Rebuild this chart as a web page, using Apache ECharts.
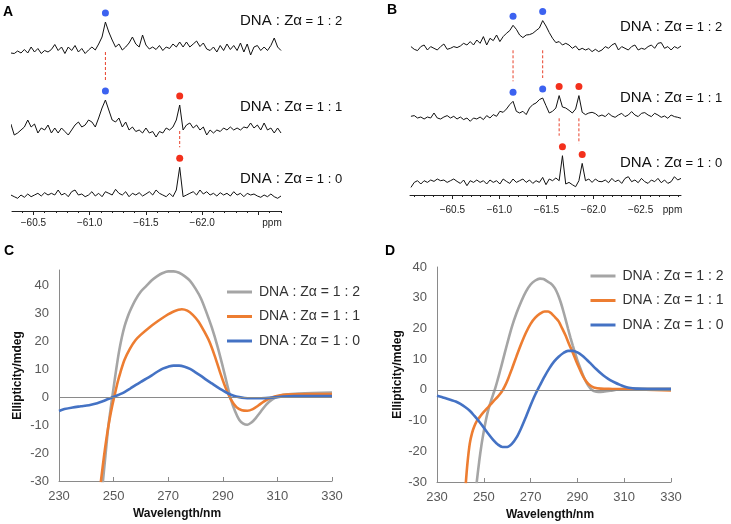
<!DOCTYPE html>
<html><head><meta charset="utf-8">
<script src="https://cdn.jsdelivr.net/npm/echarts@6/dist/echarts.min.js"></script>
<style>html,body{margin:0;padding:0;background:#fff}#c{width:731px;height:524px}</style>
</head><body><div id="c"></div>
<script>
// ---------------- DATA ----------------
const ratioNames = ['DNA : Zα = 1 : 2', 'DNA : Zα = 1 : 1', 'DNA : Zα = 1 : 0'];

// Panel A: 19F NMR spectra, sampled from -60.30 ppm every 0.03 ppm
const nmrA_start = -60.30, nmrA_step = 0.03;
const nmrA_12 = [-2,-2.5,0,-2,1.5,-2,4,-1,2.5,-2.5, 0.5,-1,1.5,6.5,0.5,4,-2.5,4,0.5,5.5,
  -1,2.5,-2.5,1,4,1,7,14,29,19, 11,4,7,1,4,8,14,7,4,16, 6,2,4,1.5,5.5,0.5,4,2.5,7,4,
  9,4,9,4,7,10,4.5,8,2,0.5, 4,-1,5.5,0.5,7,1.5,5.5,0.5,8,-1, 7,-4,4,5.5,0.5,4,0.5,5.5,13,4, 0.5];
const nmrA_11 = [6,-5,-3,0,3,10,3,6,-3,2, 0,5,-3,2,-3,2,-1.5,-5,0,5, 8,3,5,10,8,3,12,22,30,20,
  10,8,12,3,8,0,3,-1.5,0,-3, 2,-3,-1.5,-7,-1.5,-3,2,0,3,10, 25,0,5,7,2,5,0,3,-5,0,
  -3,0,-1.5,2,0,3,0,2,0,3, 2,7,2,5,0,7,0,2,-3,2, -3];
const nmrA_10 = [1,-0.7,-2.3,1,-1.3,2,-0.7,1,2.7,0, 3.3,1,2.7,1,6,1,2.7,-0.7,4.3,6,
  1,2,-0.7,1,4.3,0,2.7,-0.7,4.3,2.7, 1,6.7,2.7,1,4.3,-0.7,2.7,1,3.3,0, 2,4.3,1,6,2.7,1,-0.7,2.7,-0.7,6,
  28.7,-0.7,1,2.7,4.3,1,6,2,4.3,1, 2.7,0,3.3,1,2.7,0,4.3,1,2.7,-0.7, 2.7,1,2,0,-1.3,1,-0.7,2,-0.7,-2.3, 0];

// Panel B: 19F NMR spectra, sampled from -60.06 ppm every 0.035 ppm
const nmrB_start = -60.06, nmrB_step = 0.035;
const nmrB_12 = [2.7,0,-1.3,2.7,4.3,-0.7,2.7,1,-0.7,2.7, 5.3,0,1,2.7,1.7,3.3,6,4.3,7.7,4.3,
  9.3,6,12.7,4.3,11,8.7,14.3,7.7,12.7,16, 18.7,24,20,14.3,11.7,14.3,14.7,16,18.7,21.3,
  28.7,23.3,16.7,11,6.7,7.7,4.3,6,4.3,1, 3.3,-0.7,1,-0.7,0.7,-2.3,0,-2.3,-0.7,2.7,
  1,4.3,6,-0.7,2.7,1,-0.7,2.7,4.3,-0.7, 1,0,2.7,4.3,1,6,6.7,1,2.7,-0.7, 2.7,1,3.3];
const nmrB_11 = [1,1.7,-0.7,0.3,-1.7,0.3,-0.7,4.3,-0.7,-1.7, 0.3,1.7,-0.7,1,-1.7,0.3,-2.3,-0.7,-4,-0.7,
  -1.7,0.3,-2.3,1.7,-0.7,2.7,1,6,5,8.3, 12.7,16,6,4.3,6,2.7,9.3,12.7,14.3,17.7,
  19.3,11.7,4.3,6,9.3,21.7,10.3,9.3,7,4.3, 8.3,21.7,5,2.7,4.3,5,3.7,1,2.3,0.7,
  4,1.3,0,2.3,4,0.7,2.3,5.7,2.3,0.7, 4,4.7,2.3,0.7,4,2.3,0,1.3,-1,2.3, 0.7,0,-1];
const nmrB_10 = [-5.7,-0.7,1,-2.3,1,-0.7,1.7,0.3,2.7,1, 1.7,-0.7,1,2.7,0.3,-1.7,1.7,-4,1,-0.7,
  1.7,-0.7,1,-2.3,1.7,-0.7,1,-2.3,2.7,0.3, -1.7,2.7,-0.7,1,2.7,-0.7,1.7,-1.7,1,-0.7,
  4.3,-3,2.7,1,3.7,1,26,-2.3,-0.7,-3, -5,1,18.3,1,2.7,-0.7,2.7,0.3,0,1.7,
  -1,3.3,0,1.7,-1.7,3.3,5,0,1.7,-1, 3.3,0,-1.7,1.7,0,3.3,-1,1.7,-1.7,0, 5,1.7,3.3];

// peak markers: [spectrum (0 = 1:2, 1 = 1:1, 2 = 1:0), sample index, kind]
const peaksA = [[0,28,'blue'],[1,28,'blue'],[1,50,'red'],[2,50,'red']];
const peaksB = [[0,31,'blue'],[0,40,'blue'],[1,31,'blue'],[1,40,'blue'],[1,45,'red'],[1,51,'red'],[2,46,'red'],[2,52,'red']];
// connectors: [upper spectrum, lower spectrum, sample index for ppm, lower peak index]
const linksA = [[0,1,28,28],[1,2,50,50]];
const linksB = [[0,1,31,31],[0,1,40,40],[1,2,45,46],[1,2,51,52]];

const ppmTicksA = [-60.5,-61.0,-61.5,-62.0,-62.5];
const ppmLabelsA = [-60.5,-61.0,-61.5,-62.0];
const ppmTicksB = [-60.5,-61.0,-61.5,-62.0,-62.5];
const ppmLabelsB = [-60.5,-61.0,-61.5,-62.0,-62.5];

// Panel C: CD spectra [wavelength nm, ellipticity mdeg]
const cdC_12 = [[246,-31],[247,-21],[248,-11],[249,-3.5],[250,3.5],[251,10.3],[252,16.5],[253,21.5],[254,25.5],[255,28.5],[256,31],[258,35],[260,38],[262,40],[264,42],[266,43.5],[268,44.6],[270,45.2],[272,45.2],[274,44.7],[276,43.5],[278,41.8],[280,39],[282,35.5],[284,30.5],[286,25],[288,18.5],[290,11],[291.5,5],[293,-0.8],[294.5,-5],[296,-8],[297.5,-9.4],[299,-9.8],[300.5,-9],[302,-7.5],[304,-5],[306,-2.5],[308,-0.8],[310,0.2],[313,1],[318,1.4],[330,1.7]];
const cdC_11 = [[245.3,-30.5],[246.5,-21],[247.5,-14],[248.5,-8],[249.5,-3],[250.5,1.3],[251.5,5.5],[252.5,9],[254,13.5],[256,17.5],[258,20.5],[260,22.5],[263,25],[266,27.2],[269,29.2],[272,30.8],[275,31.6],[277,31.1],[279,29.6],[281,27.3],[283,24],[285,20.2],[287,15],[289,9],[291,3.5],[293,-0.8],[295,-3.5],[297,-4.6],[299,-4.8],[301,-4.2],[303,-2.9],[305,-1.5],[307,-0.4],[309,0.3],[312,0.9],[316,1.1],[330,1.2]];
const cdC_10 = [[230,-4.9],[232,-4.2],[235,-3.6],[238,-3.2],[241,-2.8],[244,-2.1],[246,-1.4],[248,-0.6],[250,0.2],[252,1],[254,1.9],[256,3.1],[258,4.4],[260,5.6],[262,6.7],[264,7.9],[266,9.2],[268,10.3],[270,11],[272,11.4],[274,11.4],[276,11],[278,10.2],[280,9],[282,7.7],[284,6.3],[286,5],[288,3.7],[290,2.5],[292,1.4],[294,0.6],[296,0.1],[298,-0.2],[300,-0.3],[304,-0.3],[308,-0.1],[312,0.3],[316,0.5],[330,0.5]];
// Panel D
const cdD_12 = [[246.9,-30.5],[248,-23.5],[249,-18],[250,-13.5],[251,-9.5],[252,-6.3],[253,-3.8],[254,-1.5],[255,0.8],[256,3.5],[257,6.3],[258,9.2],[260,15],[262,20.5],[264,25],[266,28.8],[268,32],[270,34.3],[272,35.6],[274,36.2],[275.5,36.1],[277,35.4],[278.5,34.7],[280,33.5],[281,32.2],[282,30.4],[283,28.2],[284,25.6],[285,22.8],[286,19.9],[287,17.1],[288,14.5],[289,12],[290,9.6],[291,7.5],[292,5.5],[293,3.7],[294,2.2],[295,1],[296,0.1],[297,-0.4],[299,-0.7],[301,-0.6],[304,-0.3],[308,0.2],[312,0.4],[330,0.4]];
const cdD_11 = [[242.3,-30.5],[243,-24],[244,-17.5],[245,-14],[246,-11.8],[247,-10.2],[248.5,-8.6],[250,-7.2],[252,-5.5],[254,-3.8],[256,-2.2],[257.5,-0.8],[259,1.2],[260.5,3.8],[262,6.8],[264,11],[266,15],[268,18.6],[270,21.5],[272,23.5],[274,24.8],[276,25.5],[277.5,25.5],[279,24.8],[280.5,23.6],[282,22.3],[283.5,20],[285,17.6],[286.5,14.8],[288,12.2],[289.5,9.3],[291,6.7],[292.5,4.3],[294,2.5],[295.5,1.4],[297,0.8],[300,0.4],[305,0.3],[311,0.2],[330,-0.2]];
const cdD_10 = [[230,-1.9],[232,-2.3],[234,-2.8],[236,-3.3],[238,-3.8],[240,-4.6],[242,-5.6],[244,-6.8],[246,-8.5],[248,-10.3],[250,-12.3],[252,-14.4],[254,-16.3],[256,-17.8],[258,-18.6],[260,-18.6],[262,-17.6],[264,-15.5],[266,-12.4],[268,-8.8],[270,-5],[272,-1.5],[274,1.5],[276,4.4],[278,7],[280,9.2],[282,10.8],[284,12],[286,12.7],[288,12.7],[290,12.2],[292,11.2],[294,9.8],[296,8.3],[298,6.8],[300,5.4],[302,4.2],[304,3.2],[306,2.4],[308,1.7],[310,1.1],[312,0.7],[315,0.4],[320,0.3],[330,0.3]];

const wlTicks = [230,250,270,290,310,330];
const cdTicksC = [-30,-20,-10,0,10,20,30,40];
const cdTicksD = [-30,-20,-10,0,10,20,30,40];

// ---------------- STYLE / LAYOUT ----------------
const FONT = '"Liberation Sans", Arial, Helvetica, sans-serif';
const dotColors = {blue: '#3c62f0', red: '#f3301c'};
const cdColors = ['#a5a5a5', '#ed7d31', '#4472c4'];
const offsetsA = [145, 66, 0];
const offsetsB = [132.4, 64.4, 0];
const DOT_GAP = 9, LINK_TOP = 1, LINK_BOTTOM = 11;

function ppmAt(start, step, i) { return +(start - step * i).toFixed(4); }
function minorTicks(from, to) {
  const out = [];
  for (let k = Math.floor(from * 10); k >= Math.ceil(to * 10); k--) out.push(k / 10);
  return out;
}
const minus = v => '\u2212' + Math.abs(v).toFixed(1);

function nmrSeries(specs, start, step, offsets, peaks, links, xi, yi, tag) {
  const s = [];
  specs.forEach((vals, k) => {
    s.push({
      name: tag + k, type: 'line', xAxisIndex: xi, yAxisIndex: yi, silent: true,
      showSymbol: false, symbol: 'none', animation: false,
      lineStyle: {color: '#111', width: 1},
      data: vals.map((v, i) => [ppmAt(start, step, i), v + offsets[k]])
    });
  });
  const dotVal = (k, i) => specs[k][i] + offsets[k] + DOT_GAP;
  ['blue', 'red'].forEach(kind => {
    s.push({
      name: tag + kind, type: 'scatter', xAxisIndex: xi, yAxisIndex: yi, silent: true,
      symbolSize: 7, itemStyle: {color: dotColors[kind], opacity: 1}, animation: false, z: 5,
      data: peaks.filter(p => p[2] === kind).map(p => [ppmAt(start, step, p[1]), dotVal(p[0], p[1])])
    });
  });
  links.forEach((l, j) => {
    const x = ppmAt(start, step, l[2]);
    s.push({
      name: tag + 'link' + j, type: 'line', xAxisIndex: xi, yAxisIndex: yi, silent: true,
      showSymbol: false, symbol: 'none', animation: false,
      lineStyle: {color: '#e8402a', width: 1, type: [3, 2]},
      data: [[x, offsets[l[0]] - LINK_TOP], [x, dotVal(l[1], l[3]) + LINK_BOTTOM]]
    });
  });
  return s;
}

function nmrAxes(grid, min, max, ticks, labels, unitPos, margin) {
  return [{
    gridIndex: grid, type: 'value', inverse: true, min: min, max: max, position: 'bottom',
    axisLine: {show: true, onZero: false, lineStyle: {color: '#222', width: 1}},
    axisTick: {show: true, customValues: ticks, length: 4, lineStyle: {color: '#222'}},
    axisLabel: {show: true, customValues: labels.concat([unitPos]), margin: margin,
      fontFamily: FONT, fontSize: 10, color: '#222',
      formatter: v => Math.abs(v - unitPos) < 1e-6 ? 'ppm' : minus(v)},
    splitLine: {show: false}
  }, {
    gridIndex: grid, type: 'value', inverse: true, min: min, max: max, position: 'bottom',
    axisLine: {show: false, onZero: false},
    axisTick: {show: true, customValues: minorTicks(max, min), length: 2, lineStyle: {color: '#222'}},
    axisLabel: {show: false}, splitLine: {show: false}
  }];
}

function cdX(grid, nameShift) {
  return {
    gridIndex: grid, type: 'value', min: 230, max: 330, position: 'bottom',
    axisLine: {show: true, onZero: false, lineStyle: {color: '#8a8a8a', width: 1}},
    axisTick: {show: true, inside: true, length: 4, customValues: wlTicks, lineStyle: {color: '#8a8a8a'}},
    axisLabel: {customValues: wlTicks, margin: 9, fontFamily: FONT, fontSize: 13, color: '#595959'},
    splitLine: {show: false},
    name: 'Wavelength/nm', nameLocation: 'middle', nameGap: 27,
    nameTextStyle: {fontFamily: FONT, fontSize: 12, fontWeight: 'bold', color: '#111', padding: [0, nameShift, 0, 0]}
  };
}
function cdY(grid, max, ticks, gap) {
  return {
    gridIndex: grid, type: 'value', min: -30, max: max, position: 'left',
    axisLine: {show: true, onZero: false, lineStyle: {color: '#8a8a8a', width: 1}},
    axisTick: {show: false},
    axisLabel: {customValues: ticks, margin: 10, fontFamily: FONT, fontSize: 13, color: '#595959'},
    splitLine: {show: false},
    name: 'Ellipticity/mdeg', nameLocation: 'middle', nameGap: gap,
    nameTextStyle: {fontFamily: FONT, fontSize: 12, fontWeight: 'bold', color: '#111'}
  };
}
function cdSeries(sets, xi, yi) {
  return sets.map((d, k) => {
    const s = {
      name: ratioNames[k], type: 'line', xAxisIndex: xi, yAxisIndex: yi,
      smooth: 0.3, showSymbol: false, symbol: 'none', animation: false,
      lineStyle: {color: cdColors[k], width: 2.6}, itemStyle: {color: cdColors[k]},
      data: d
    };
    if (k === 0) s.markLine = {silent: true, symbol: 'none', label: {show: false},
      lineStyle: {color: '#8a8a8a', width: 1, type: 'solid'}, data: [{yAxis: 0}], animation: false};
    return s;
  });
}
function legend(left, top) {
  return {
    left: left, top: top, padding: 0, orient: 'vertical', icon: 'rect', itemWidth: 25, itemHeight: 3,
    itemGap: 8.5, selectedMode: false, data: ratioNames.slice(),
    textStyle: {fontFamily: FONT, fontSize: 14, color: '#333', lineHeight: 16, padding: [0, 0, 0, 2]}
  };
}
function ratioText(x, y, k) {
  const parts = ratioNames[k].split(' = ');
  return {type: 'text', x: x, y: y, silent: true,
    style: {text: '{a|' + parts[0] + '}{b| = ' + parts[1] + '}', verticalAlign: 'middle', align: 'left',
      rich: {a: {fontFamily: FONT, fontSize: 15, fill: '#111'}, b: {fontFamily: FONT, fontSize: 13, fill: '#111'}}}};
}
function letter(x, y, t) {
  return {type: 'text', x: x, y: y, silent: true,
    style: {text: t, fontFamily: FONT, fontSize: 14, fontWeight: 'bold', fill: '#000', verticalAlign: 'middle'}};
}

const option = {
  backgroundColor: '#fff',
  animation: false,
  grid: [
    {left: 12, top: 0, width: 269, height: 211},
    {left: 410, top: 0, width: 271, height: 195},
    {left: 59, top: 270, width: 273, height: 211},
    {left: 437, top: 267, width: 234, height: 215}
  ],
  xAxis: [].concat(
    nmrAxes(0, -62.70, -60.31, ppmTicksA, ppmLabelsA, -62.62, 7),
    nmrAxes(1, -62.93, -60.05, ppmTicksB, ppmLabelsB, -62.84, 10),
    [cdX(2, 37), cdX(3, 8)]
  ),
  yAxis: [
    {gridIndex: 0, type: 'value', min: -15, max: 196, show: false},
    {gridIndex: 1, type: 'value', min: -13.3, max: 181.7, show: false},
    cdY(2, 45.7, cdTicksC, 35),
    cdY(3, 40, cdTicksD, 33)
  ],
  legend: [legend(227, 284), legend(590.5, 268)],
  series: [].concat(
    nmrSeries([nmrA_12, nmrA_11, nmrA_10], nmrA_start, nmrA_step, offsetsA, peaksA, linksA, 0, 0, 'A'),
    nmrSeries([nmrB_12, nmrB_11, nmrB_10], nmrB_start, nmrB_step, offsetsB, peaksB, linksB, 2, 1, 'B'),
    cdSeries([cdC_12, cdC_11, cdC_10], 4, 2),
    cdSeries([cdD_12, cdD_11, cdD_10], 5, 3)
  ),
  graphic: [
    letter(3, 12, 'A'), letter(387, 10, 'B'), letter(4, 251, 'C'), letter(385, 251, 'D'),
    ratioText(240, 21, 0), ratioText(240, 107, 1), ratioText(240, 179, 2),
    ratioText(620, 27, 0), ratioText(620, 98, 1), ratioText(620, 163, 2)
  ]
};
const chart = echarts.init(document.getElementById('c'), null, {renderer: 'canvas'});
chart.setOption(option);
</script>
</body></html>
